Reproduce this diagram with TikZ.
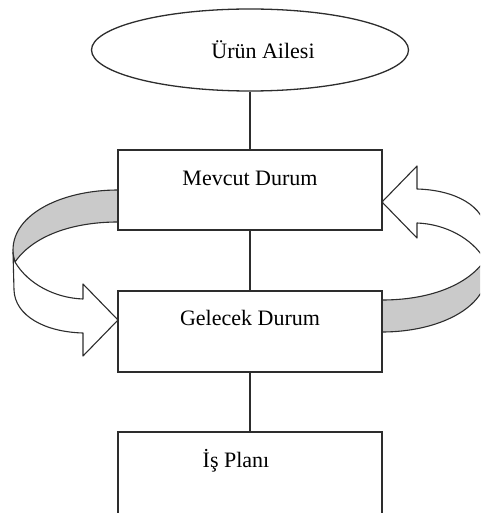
\documentclass[tikz,border=0pt]{standalone}
\usepackage{fontspec}
\setmainfont{Liberation Serif}
\usetikzlibrary{shapes.geometric}
\definecolor{edge}{RGB}{45,45,45}
\definecolor{band}{RGB}{202,202,202}
\tikzset{
  stage/.style={draw=edge, line width=1.3pt, fill=white, rectangle,
    minimum width=264pt, inner sep=0pt},
  caption/.style={anchor=base, inner sep=0pt, font=\fontsize{22}{26}\selectfont},
  link/.style={draw=edge, line width=1.3pt},
  ribbonline/.style={draw=edge, line width=1.1pt, line join=round},
  % curved loop arrow: grey back face leaving the upper box, white front face ending in the head
  loop/.pic={
    \path[ribbonline, fill=band]
      (118,190) .. controls (62,190) and (13,214) .. (13,250)
      .. controls (13,255) and (14,259) .. (15,262)
      .. controls (33,236) and (72,222) .. (118,222) -- cycle;
    \path[ribbonline, fill=white]
      (15,262) .. controls (28,284) and (55,298) .. (83,299)
      -- (83,284) -- (118,320) -- (83,356) -- (83,333)
      .. controls (45,332) and (15,316) .. (14,290)
      -- (13,252) .. controls (13,256) and (14,259) .. (15,262) -- cycle;
  }
}
\begin{document}
\begin{tikzpicture}[x=1pt, y=-1pt]
\useasboundingbox (0,0) rectangle (480,513);
\clip (0,0) rectangle (480,513);

% the two loops between the current and the future state;
% the second is the first turned half a turn about (250,261)
\pic at (0,0) {loop};
\pic[rotate=180] at (500,522) {loop};

% top ellipse
\node[ellipse, draw=edge, line width=1.3pt, fill=white, minimum width=317pt,
      minimum height=82pt, inner sep=0pt] (family) at (250,50) {};
\node[caption] (familytext) at (263,59) {Ürün Ailesi};

% stage boxes
\node[stage, minimum height=80pt] (current) at (250,190) {};
\node[caption] (currenttext) at (250,185) {Mevcut Durum};

\node[stage, minimum height=81pt] (future) at (250,331.5) {};
\node[caption] (futuretext) at (250,325) {Gelecek Durum};

\node[stage, minimum height=90pt] (plan) at (250,477) {};
\node[caption] (plantext) at (236,467) {İş Planı};

% vertical connectors
\draw[link] (family.south) -- (current.north);
\draw[link] (current.south) -- (future.north);
\draw[link] (future.south) -- (plan.north);
\end{tikzpicture}
\end{document}
